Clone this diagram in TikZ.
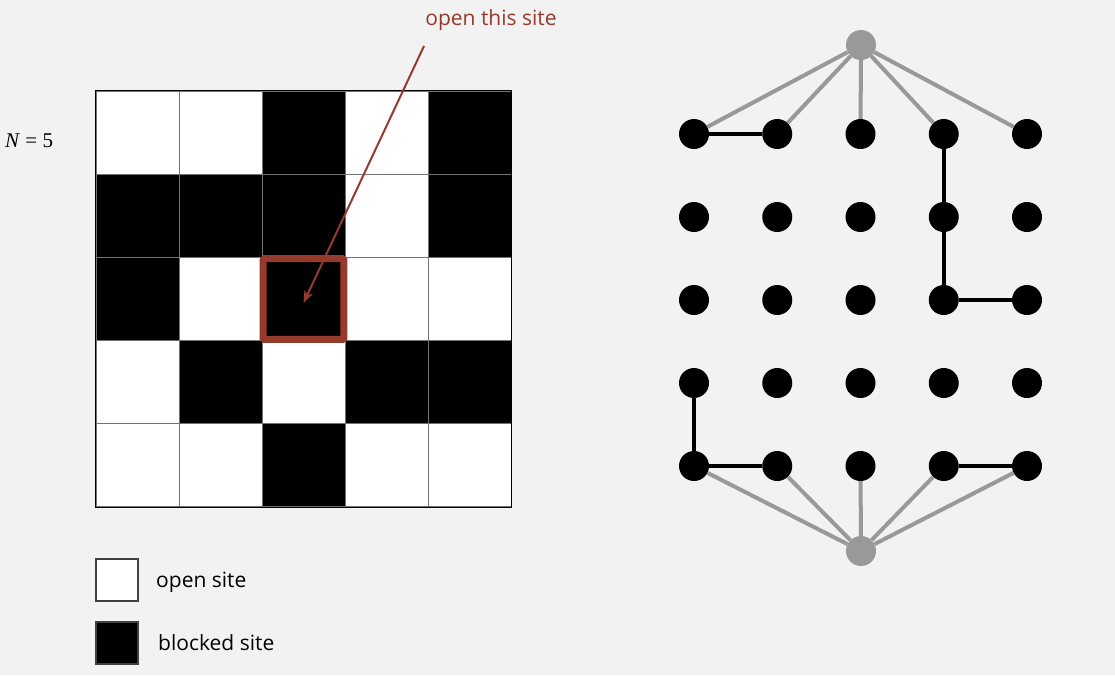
\documentclass[tikz,border=0pt]{standalone}
\usepackage{fontspec}
\newfontfamily\labelfont{Open Sans}
\newfontfamily\serifnum{Liberation Serif}
\usetikzlibrary{arrows.meta}
\definecolor{sitered}{HTML}{963A2C}

\begin{document}
\begin{tikzpicture}[x=1pt,y=-1pt]
        \tikzstyle{open}=[rectangle,draw=black!55,line width=0.8pt,fill=white,minimum size=83pt,inner sep=0pt]
        \tikzstyle{blocked}=[open,fill=black]
        \tikzstyle{dot}=[circle,fill=black,minimum size=30pt,inner sep=0pt]
        \tikzstyle{virtual}=[dot,fill=black!40]
        \tikzstyle{bond}=[line width=3.5pt]
        \tikzstyle{link}=[line width=4pt,black!40]
        \tikzstyle{caption}=[font=\labelfont\fontsize{21}{25}\selectfont,inner sep=0pt]
        \path [fill=black!5] (0,0) rectangle (1115,675);
        \useasboundingbox (0,0) rectangle (1115,675);
        \node [anchor=base west,inner sep=0pt,font=\serifnum\fontsize{21}{25}\selectfont] (size) at (5,147) {\textit{N} = 5};
        \matrix (grid) [row sep={83pt,between origins},column sep={83pt,between origins},inner sep=0pt] at (303.5,299) {
            \node [open] (c11) {}; & \node [open] (c12) {}; & \node [blocked] (c13) {}; & \node [open] (c14) {}; & \node [blocked] (c15) {}; \\
            \node [blocked] (c21) {}; & \node [blocked] (c22) {}; & \node [blocked] (c23) {}; & \node [open] (c24) {}; & \node [blocked] (c25) {}; \\
            \node [blocked] (c31) {}; & \node [open] (c32) {}; & \node [blocked] (c33) {}; & \node [open] (c34) {}; & \node [open] (c35) {}; \\
            \node [open] (c41) {}; & \node [blocked] (c42) {}; & \node [open] (c43) {}; & \node [blocked] (c44) {}; & \node [blocked] (c45) {}; \\
            \node [open] (c51) {}; & \node [open] (c52) {}; & \node [blocked] (c53) {}; & \node [open] (c54) {}; & \node [open] (c55) {}; \\
        };
        \draw [line width=1pt] (grid.north west) rectangle (grid.south east);
        \draw [sitered,line width=7pt,rounded corners=1.5pt] ([shift={(1.5,1.5)}]c33.north west) rectangle ([shift={(-1.5,-1.5)}]c33.south east);
        \node [caption,text=sitered,anchor=base] (hint) at (491,25) {open this site};
        \coordinate (tail) at (424,46);
        \draw [sitered,line width=2pt,-{Stealth[length=12pt,width=9pt,inset=3pt]}] (tail) -- ([yshift=-4pt]c33.center);
        \node [open,minimum size=42pt,line width=1.5pt,draw=black!75] (openkey) at (117,580) {};
        \node [blocked,minimum size=42pt,line width=1.5pt,draw=black!75] (blockedkey) at (117,643) {};
        \node [caption,anchor=base west] (opentext) at (156,587) {open site};
        \node [caption,anchor=base west] (blockedtext) at (158,650) {blocked site};
        \matrix (lattice) [row sep={83pt,between origins},column sep={83.25pt,between origins}] at (860.5,300) {
            \node [dot] (v11) {}; & \node [dot] (v12) {}; & \node [dot] (v13) {}; & \node [dot] (v14) {}; & \node [dot] (v15) {}; \\
            \node [dot] (v21) {}; & \node [dot] (v22) {}; & \node [dot] (v23) {}; & \node [dot] (v24) {}; & \node [dot] (v25) {}; \\
            \node [dot] (v31) {}; & \node [dot] (v32) {}; & \node [dot] (v33) {}; & \node [dot] (v34) {}; & \node [dot] (v35) {}; \\
            \node [dot] (v41) {}; & \node [dot] (v42) {}; & \node [dot] (v43) {}; & \node [dot] (v44) {}; & \node [dot] (v45) {}; \\
            \node [dot] (v51) {}; & \node [dot] (v52) {}; & \node [dot] (v53) {}; & \node [dot] (v54) {}; & \node [dot] (v55) {}; \\
        };
        \node [virtual] (top) at (861,45) {};
        \node [virtual] (bottom) at (861,551) {};
        \draw [link] (top) -- (v11);
        \draw [link] (top) -- (v12);
        \draw [link] (top) -- (v13);
        \draw [link] (top) -- (v14);
        \draw [link] (top) -- (v15);
        \draw [link] (bottom) -- (v51);
        \draw [link] (bottom) -- (v52);
        \draw [link] (bottom) -- (v53);
        \draw [link] (bottom) -- (v54);
        \draw [link] (bottom) -- (v55);
        \draw [bond] (v11) -- (v12);
        \draw [bond] (v14) -- (v24);
        \draw [bond] (v24) -- (v34);
        \draw [bond] (v34) -- (v35);
        \draw [bond] (v41) -- (v51);
        \draw [bond] (v51) -- (v52);
        \draw [bond] (v54) -- (v55);
    \end{tikzpicture}
\end{document}
